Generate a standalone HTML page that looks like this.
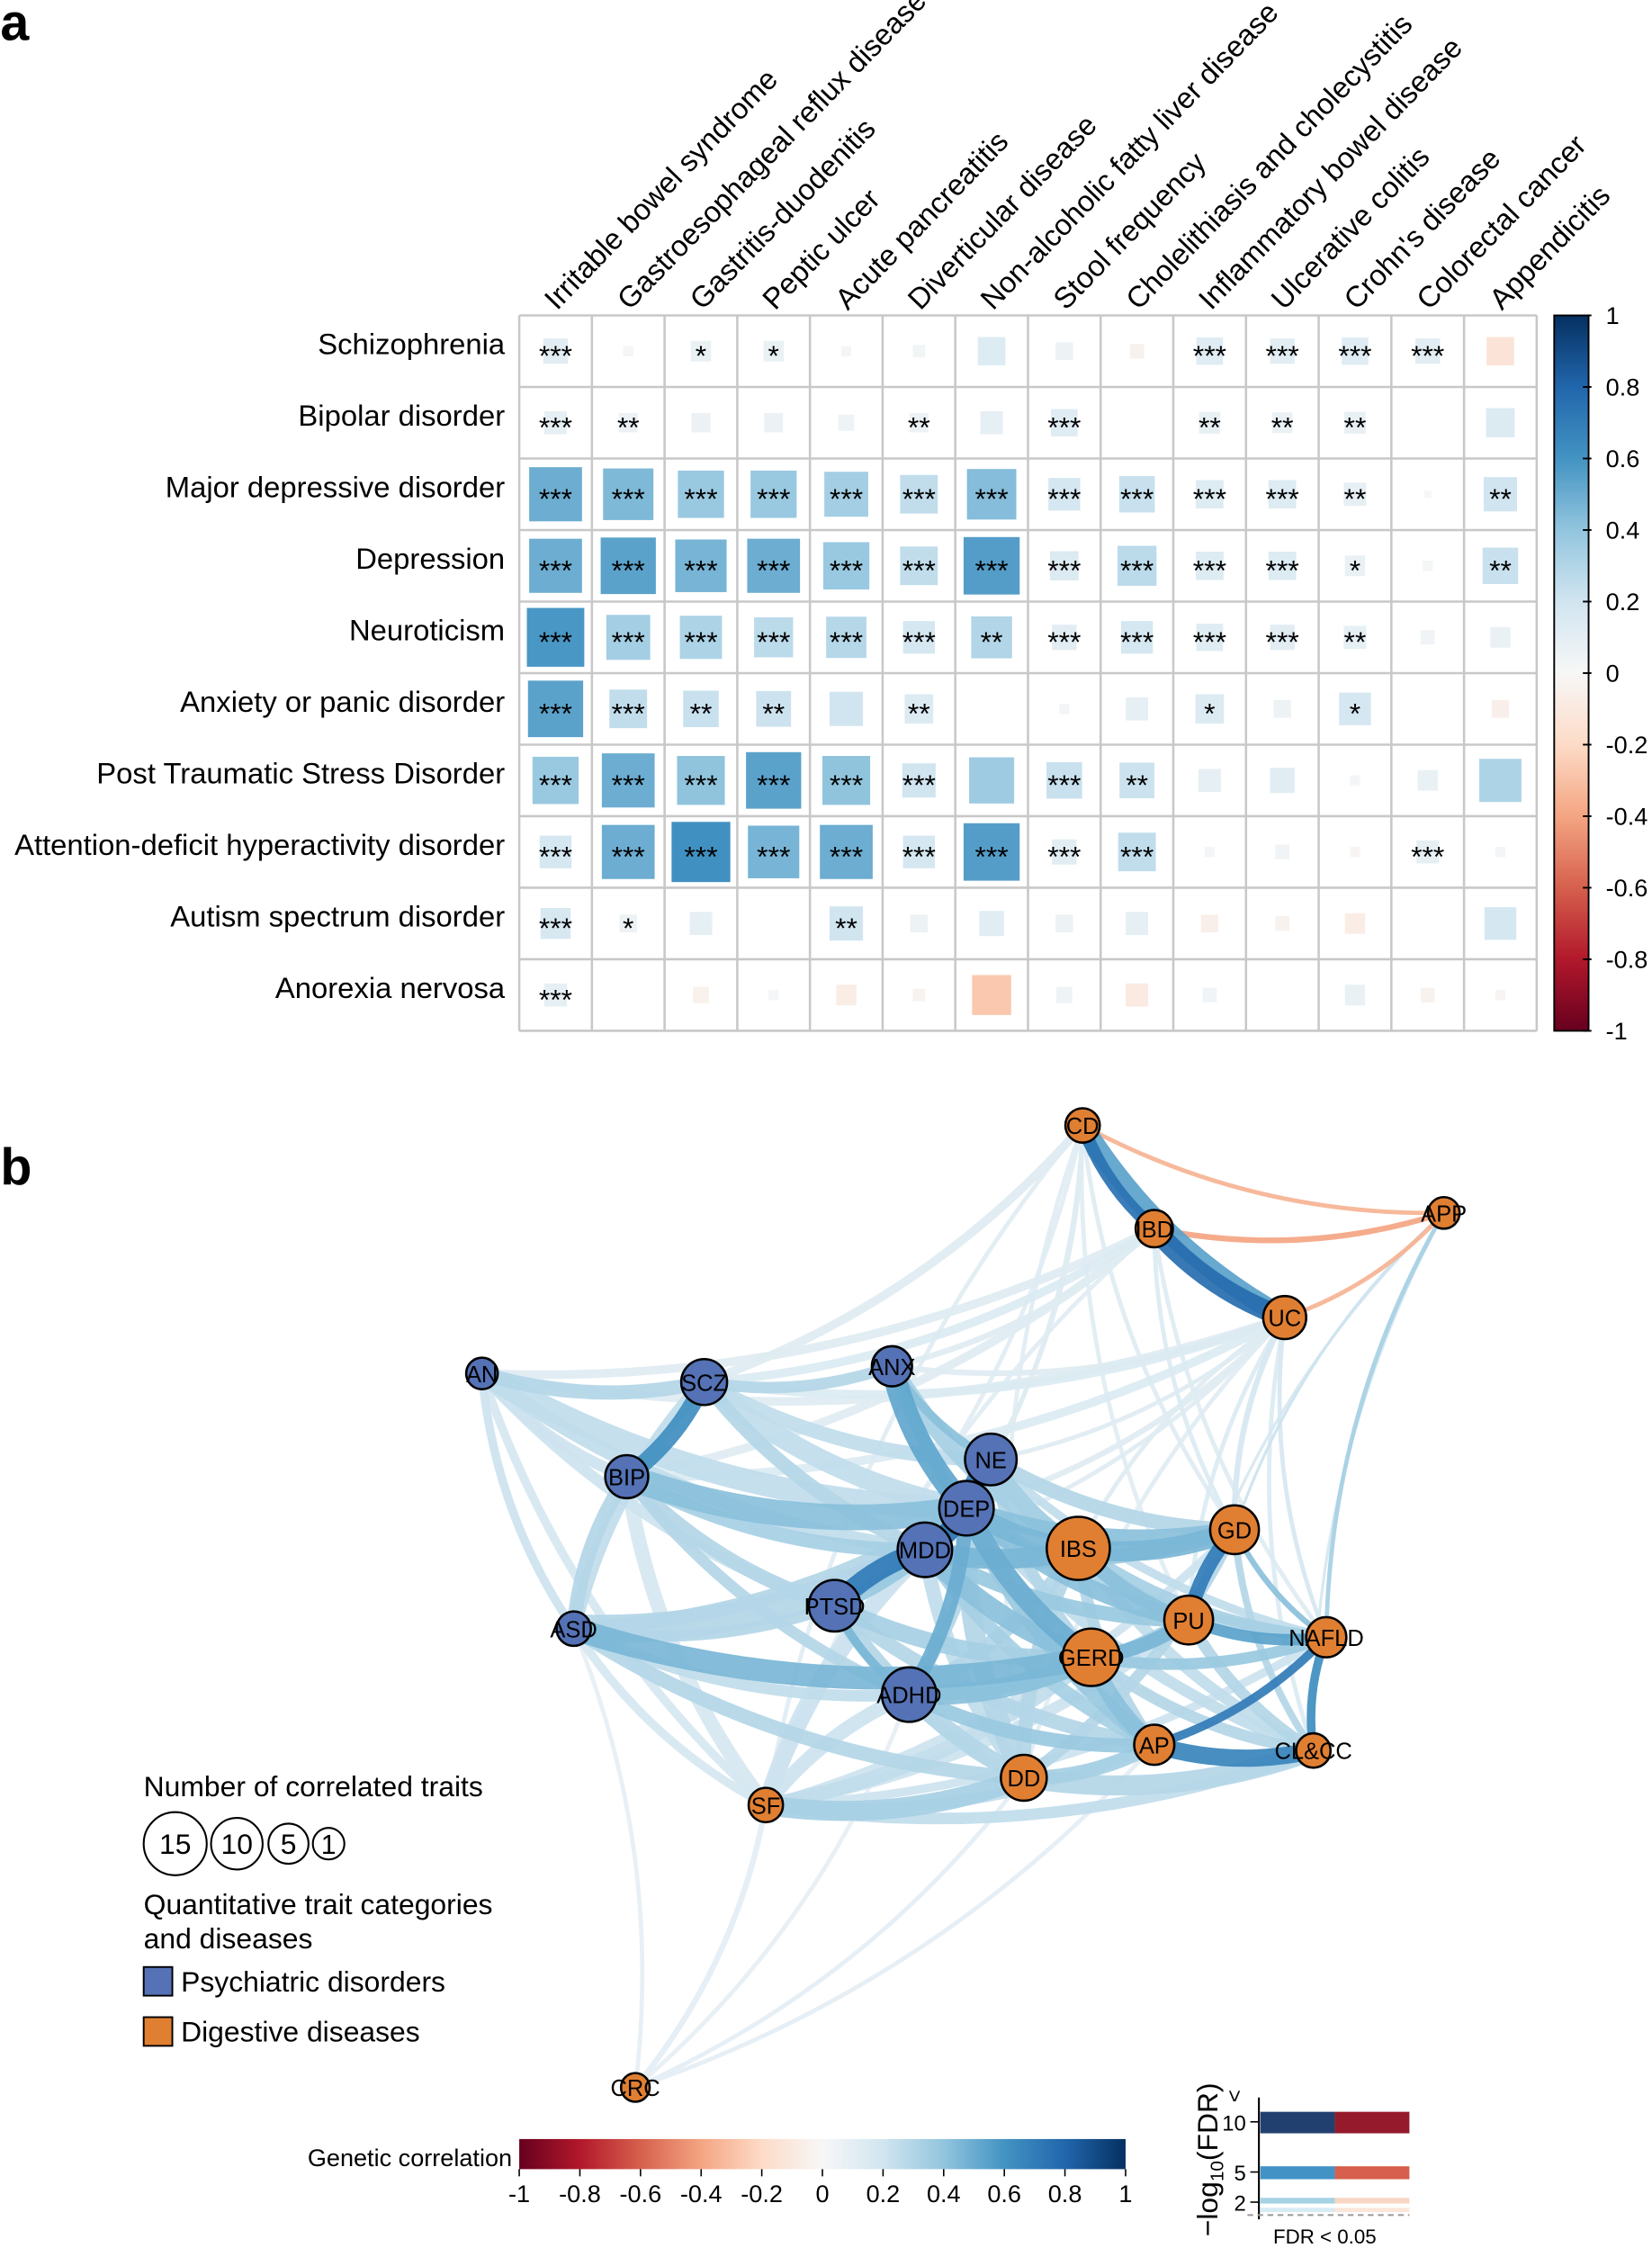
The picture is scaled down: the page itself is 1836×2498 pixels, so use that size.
<!DOCTYPE html>
<html><head><meta charset="utf-8"><style>
html,body{margin:0;padding:0;background:#fff;}
svg{display:block;}
text{font-family:"Liberation Sans",Arial,sans-serif;}
</style></head><body>
<svg id="s" width="1836" height="2498" viewBox="0 0 1152 1568" xmlns="http://www.w3.org/2000/svg">
<defs>
<linearGradient id="cbv" x1="0" y1="1" x2="0" y2="0">
<stop offset="0" stop-color="#67001F"/><stop offset="0.1" stop-color="#B2182B"/><stop offset="0.2" stop-color="#D6604D"/><stop offset="0.3" stop-color="#F4A582"/><stop offset="0.4" stop-color="#FDDBC7"/><stop offset="0.5" stop-color="#F7F7F7"/><stop offset="0.6" stop-color="#D1E5F0"/><stop offset="0.7" stop-color="#92C5DE"/><stop offset="0.8" stop-color="#4393C3"/><stop offset="0.9" stop-color="#2166AC"/><stop offset="1" stop-color="#053061"/>
</linearGradient>
<linearGradient id="cbh" x1="0" y1="0" x2="1" y2="0">
<stop offset="0" stop-color="#67001F"/><stop offset="0.1" stop-color="#B2182B"/><stop offset="0.2" stop-color="#D6604D"/><stop offset="0.3" stop-color="#F4A582"/><stop offset="0.4" stop-color="#FDDBC7"/><stop offset="0.5" stop-color="#F7F7F7"/><stop offset="0.6" stop-color="#D1E5F0"/><stop offset="0.7" stop-color="#92C5DE"/><stop offset="0.8" stop-color="#4393C3"/><stop offset="0.9" stop-color="#2166AC"/><stop offset="1" stop-color="#053061"/>
</linearGradient>
</defs>
<text x="0" y="28" font-size="36" font-weight="bold">a</text>
<text x="0" y="826" font-size="36" font-weight="bold">b</text>
<g id="heat"></g>
<g id="net"></g>
<text x="100" y="1253" font-size="20">Number of correlated traits</text>
<circle cx="122" cy="1286" r="22" fill="#fff" stroke="#000" stroke-width="1.3"/><text x="122" y="1293" font-size="20" text-anchor="middle">15</text>
<circle cx="165" cy="1286" r="18" fill="#fff" stroke="#000" stroke-width="1.3"/><text x="165" y="1293" font-size="20" text-anchor="middle">10</text>
<circle cx="201" cy="1286" r="14" fill="#fff" stroke="#000" stroke-width="1.3"/><text x="201" y="1293" font-size="20" text-anchor="middle">5</text>
<circle cx="229" cy="1286" r="11" fill="#fff" stroke="#000" stroke-width="1.3"/><text x="229" y="1293" font-size="19" text-anchor="middle">1</text>
<text x="100" y="1335" font-size="20">Quantitative trait categories</text>
<text x="100" y="1359" font-size="20">and diseases</text>
<rect x="100" y="1372" width="20" height="20" fill="#5472B5" stroke="#000" stroke-width="1.2"/>
<text x="126" y="1389" font-size="20">Psychiatric disorders</text>
<rect x="100" y="1407" width="20" height="20" fill="#E07F32" stroke="#000" stroke-width="1.2"/>
<text x="126" y="1424" font-size="20">Digestive diseases</text>
<text x="357" y="1511" font-size="17" text-anchor="end">Genetic correlation</text>
<rect x="362" y="1492" width="423" height="21" fill="url(#cbh)"/>
<g id="hticks"></g>
<line x1="878" y1="1463" x2="878" y2="1548" stroke="#000" stroke-width="1.3"/>
<rect x="879" y="1473" width="52" height="15" fill="#22406F"/><rect x="931" y="1473" width="52" height="15" fill="#951A2B"/>
<rect x="879" y="1511" width="52" height="9" fill="#4292C6"/><rect x="931" y="1511" width="52" height="9" fill="#D6604D"/>
<rect x="879" y="1533" width="52" height="4" fill="#A6D3E3"/><rect x="931" y="1533" width="52" height="4" fill="#F7D7C4"/>
<rect x="879" y="1540" width="52" height="3" fill="#D6EBF3"/><rect x="931" y="1540" width="52" height="3" fill="#FBE6DA"/>
<line x1="870" y1="1545" x2="983" y2="1545" stroke="#999" stroke-width="1.2" stroke-dasharray="4,3"/>
<line x1="872" y1="1480" x2="878" y2="1480" stroke="#000"/><line x1="872" y1="1515" x2="878" y2="1515" stroke="#000"/><line x1="872" y1="1536" x2="878" y2="1536" stroke="#000"/>
<text x="869" y="1486" font-size="15" text-anchor="end">10</text>
<text x="869" y="1521" font-size="15" text-anchor="end">5</text>
<text x="869" y="1542" font-size="15" text-anchor="end">2</text>
<text transform="translate(866,1462) rotate(-90)" font-size="15" text-anchor="middle">&lt;</text>
<text transform="translate(849,1560) rotate(-90)" font-size="20">−log<tspan font-size="13" dy="4">10</tspan><tspan dy="-4">(FDR)</tspan></text>
<text x="888" y="1565" font-size="14">FDR &lt; 0.05</text>
</svg>
<script>
var NS="http://www.w3.org/2000/svg";
function el(t,a,p,txt){var e=document.createElementNS(NS,t);for(var k in a)e.setAttribute(k,a[k]);if(txt!==undefined)e.textContent=txt;p.appendChild(e);return e;}
var stops=[[-1,[103,0,31]],[-.8,[178,24,43]],[-.6,[214,96,77]],[-.4,[244,165,130]],[-.2,[253,219,199]],[0,[247,247,247]],[.2,[209,229,240]],[.4,[146,197,222]],[.6,[67,147,195]],[.8,[33,102,172]],[1,[5,48,97]]];
function col(v){v=Math.max(-1,Math.min(1,v));for(var i=0;i<stops.length-1;i++){var a=stops[i],b=stops[i+1];if(v<=b[0]){var t=(v-a[0])/(b[0]-a[0]);var c=a[1].map(function(x,j){return Math.round(x+(b[1][j]-x)*t);});return "rgb("+c.join(",")+")";}}return "rgb(5,48,97)";}
var H=document.getElementById("heat");
var rows=["Schizophrenia","Bipolar disorder","Major depressive disorder","Depression","Neuroticism","Anxiety or panic disorder","Post Traumatic Stress Disorder","Attention-deficit hyperactivity disorder","Autism spectrum disorder","Anorexia nervosa"];
var cols=["Irritable bowel syndrome","Gastroesophageal reflux disease","Gastritis-duodenitis","Peptic ulcer","Acute pancreatitis","Diverticular disease","Non-alcoholic fatty liver disease","Stool frequency","Cholelithiasis and cholecystitis","Inflammatory bowel disease","Ulcerative colitis","Crohn's disease","Colorectal cancer","Appendicitis"];
var V=[[.12,.02,.08,.08,.02,.03,.15,.06,-.04,.14,.12,.14,.12,-.15],
[.1,.07,.07,.07,.05,.07,.1,.14,0,.09,.08,.09,0,.16],
[.55,.5,.42,.42,.38,.28,.48,.2,.25,.15,.15,.1,.01,.22],
[.55,.6,.52,.55,.42,.28,.62,.16,.3,.15,.15,.08,.02,.25],
[.65,.38,.35,.3,.32,.2,.33,.12,.2,.14,.12,.1,.04,.08],
[.6,.28,.25,.24,.22,.16,0,.02,.1,.16,.06,.2,0,-.06],
[.42,.55,.45,.6,.45,.22,.4,.25,.24,.1,.12,.02,.08,.35],
[.2,.55,.68,.52,.55,.2,.62,.12,.28,.02,.04,-.02,.1,.02],
[.18,.06,.1,0,.22,.06,.12,.06,.1,-.06,-.04,-.08,0,.2],
[.1,0,-.05,.02,-.08,-.03,-.3,.05,-.1,.04,0,.08,-.04,-.02]];
var S=[[3,0,1,1,0,0,0,0,0,3,3,3,3,0],[3,2,0,0,0,2,0,3,0,2,2,2,0,0],[3,3,3,3,3,3,3,3,3,3,3,2,0,2],[3,3,3,3,3,3,3,3,3,3,3,1,0,2],[3,3,3,3,3,3,2,3,3,3,3,2,0,0],[3,3,2,2,0,2,0,0,0,1,0,1,0,0],[3,3,3,3,3,3,0,3,2,0,0,0,0,0],[3,3,3,3,3,3,3,3,3,0,0,0,3,0],[3,1,0,0,2,0,0,0,0,0,0,0,0,0],[3,0,0,0,0,0,0,0,0,0,0,0,0,0]];
var x0=362,y0=220,cw=50.7,ch=49.9;
el("rect",{x:x0,y:y0,width:cw*14,height:ch*10,fill:"#fff"},H);
for(var r=0;r<10;r++){for(var c=0;c<14;c++){var v=V[r][c];var s=Math.sqrt(Math.abs(v));var w=cw*s*0.98,h=ch*s*1.02;var cx=x0+cw*(c+.5),cy=y0+ch*(r+.5);
if(Math.abs(v)>0.005)el("rect",{x:cx-w/2,y:cy-h/2,width:w,height:h,fill:col(v*0.9)},H);
if(S[r][c])el("text",{x:cx,y:cy+10,"font-size":20,"text-anchor":"middle"},H,"*".repeat(S[r][c]));}}
for(var i=0;i<=14;i++)el("line",{x1:x0+cw*i,y1:y0,x2:x0+cw*i,y2:y0+ch*10,stroke:"#c8c8c8","stroke-width":1.6},H);
for(var i=0;i<=10;i++)el("line",{x1:x0,y1:y0+ch*i,x2:x0+cw*14,y2:y0+ch*i,stroke:"#c8c8c8","stroke-width":1.6},H);
for(var r=0;r<10;r++)el("text",{x:352,y:y0+ch*(r+.5)+2,"font-size":20.6,"text-anchor":"end"},H,rows[r]);
for(var c=0;c<14;c++){var cx=x0+cw*(c+.5)+1;el("text",{transform:"translate("+cx+",217) rotate(-46)","font-size":20.5},H,cols[c]);}
el("rect",{x:1084,y:220,width:24,height:499,fill:"url(#cbv)",stroke:"#000","stroke-width":1.2},H);
for(var k=-5;k<=5;k++){var v=k/5;var y=469.5-v*249.5;el("line",{x1:1104,y1:y,x2:1110,y2:y,stroke:"#000","stroke-width":1.2},H);
el("text",{x:1120,y:y+6,"font-size":17},H,(v==0?"0":(Math.round(v*10)/10).toString()));}
var T=document.getElementById("hticks");
for(var k=-5;k<=5;k++){var v=k/5;var x=573.5+v*211.5;el("line",{x1:x,y1:1513,x2:x,y2:1518,stroke:"#000"},T);el("text",{x:x,y:1536,"font-size":17,"text-anchor":"middle"},T,(v==0?"0":(Math.round(v*10)/10).toString()));}
var N={CD:[755,785,12,1],IBD:[805,857,13,1],APP:[1007,846,11,1],UC:[896,919,15,1],AN:[336,958,11,0],SCZ:[491,964,16,0],ANX:[622,953,14,0],NE:[691,1018,18,0],BIP:[437,1030,15,0],DEP:[674,1052,19,0],MDD:[645,1081,19,0],IBS:[752,1080,22,1],GD:[861,1067,17,1],PTSD:[582,1120,18,0],PU:[829,1130,17,1],ASD:[400,1136,12,0],NAFLD:[925,1142,14,1],GERD:[761,1156,20,1],ADHD:[634,1182,19,0],AP:[805,1217,14,1],"CL&CC":[916,1221,12,1],DD:[714,1240,16,1],SF:[534,1259,12,1],CRC:[443,1456,10,1]};
var E="CD-IBD:.85:9,CD-UC:.6:14,IBD-UC:.88:14,CD-APP:-.3:3,IBD-APP:-.35:4,UC-APP:-.3:3,APP-NAFLD:.35:3,APP-GD:.2:2,APP-CL&CC:.15:2,APP-PU:.15:2,GD-PU:.8:10,AP-CL&CC:.75:12,AP-NAFLD:.8:6,NAFLD-CL&CC:.7:6,GD-NAFLD:.45:4,PU-NAFLD:.6:8,PU-CL&CC:.3:8,GERD-NAFLD:.4:8,GERD-PU:.5:10,IBS-GD:.5:14,IBS-PU:.45:10,GERD-AP:.45:12,DD-CL&CC:.3:14,SF-DD:.35:14,SF-CL&CC:.25:8,DD-AP:.35:10,IBS-NAFLD:.35:8,GERD-CL&CC:.3:8,GD-CL&CC:.3:5,DD-GD:.3:8,IBS-CL&CC:.25:8,BIP-SCZ:.7:12,ANX-DEP:.58:16,ANX-NE:.45:6,MDD-PTSD:.8:14,MDD-DEP:.85:14,NE-DEP:.75:14,ADHD-DEP:.55:10,AN-DEP:.25:16,AN-SCZ:.3:10,AN-BIP:.2:8,AN-ASD:.2:6,AN-PTSD:.2:8,AN-SF:.15:6,AN-MDD:.25:10,SCZ-DEP:.25:14,SCZ-MDD:.3:10,SCZ-ANX:.3:8,SCZ-ASD:.25:10,SCZ-NE:.25:10,BIP-DEP:.45:18,BIP-MDD:.35:10,BIP-PTSD:.3:10,BIP-ASD:.3:10,BIP-SF:.15:10,BIP-ADHD:.3:8,ASD-MDD:.3:20,ASD-PTSD:.3:8,ASD-ADHD:.25:8,ASD-DEP:.3:10,PTSD-DEP:.4:10,PTSD-ADHD:.5:6,ADHD-NE:.3:8,MDD-NE:.4:10,PTSD-NE:.3:8,DEP-IBS:.5:14,DEP-GD:.45:12,DEP-PU:.45:12,DEP-GERD:.55:14,DEP-NAFLD:.3:8,DEP-AP:.4:12,DEP-DD:.3:14,DEP-CL&CC:.25:8,DEP-SF:.2:10,MDD-IBS:.5:14,MDD-GERD:.45:14,MDD-PU:.4:10,MDD-GD:.4:10,MDD-DD:.25:10,MDD-SF:.2:12,MDD-AP:.35:10,ASD-GERD:.5:16,ASD-DD:.3:10,PTSD-GERD:.35:12,PTSD-AP:.3:10,PTSD-DD:.3:12,ADHD-GERD:.45:14,ADHD-AP:.4:10,ADHD-PU:.35:10,ADHD-IBS:.3:10,ADHD-DD:.25:8,ADHD-SF:.2:10,NE-IBS:.35:12,NE-GD:.3:10,NE-NAFLD:.25:6,NE-PU:.3:8,NE-GERD:.3:8,ANX-IBS:.35:12,ANX-GERD:.25:8,SCZ-UC:.12:6,SCZ-CD:.1:6,SCZ-IBD:.12:6,BIP-IBD:.1:6,BIP-UC:.12:6,AN-UC:.1:6,AN-IBD:.1:6,ANX-UC:.1:4,ANX-IBD:.1:4,NE-UC:.1:3,NE-CD:.1:3,DEP-CD:.1:3,DEP-UC:.1:4,MDD-UC:.1:3,PTSD-CD:.08:3,UC-GD:.15:4,UC-NAFLD:.15:3,UC-CL&CC:.12:3,UC-PU:.12:3,UC-IBS:.1:3,IBD-GD:.12:3,IBD-NAFLD:.1:3,CD-GD:.1:3,CD-DD:.08:3,CD-SF:.08:3,CD-PU:.08:3,IBD-SF:.08:3,UC-DD:.08:3,CRC-SF:.06:4,CRC-DD:.06:3,CRC-AP:.06:3,CRC-ADHD:.05:3,CRC-ASD:.05:3,SF-PU:.2:8,SF-GERD:.25:10,SF-AP:.25:8,SF-NAFLD:.2:6,SF-GD:.2:6,IBS-DD:.3:10,IBS-AP:.3:8,ASD-SF:.15:6".split(",").map(function(s){var p=s.split(":");var ab=p[0].split("-");return [ab[0],ab[1],+p[1],+p[2]];});
E.sort(function(a,b){return Math.abs(a[2])-Math.abs(b[2]);});
var G=document.getElementById("net");
E.forEach(function(e){var a=N[e[0]],b=N[e[1]];if(!a||!b)return;var dx=b[0]-a[0],dy=b[1]-a[1];var mx=(a[0]+b[0])/2-dy*0.13,my=(a[1]+b[1])/2+dx*0.13;
var v=e[2];var cv=v>0?0.05+v*0.82:v-0.05;
el("path",{d:"M"+a[0]+","+a[1]+" Q"+mx+","+my+" "+b[0]+","+b[1],fill:"none",stroke:col(cv),"stroke-width":e[3],"stroke-opacity":0.92},G);});
for(var k in N){var n=N[k];el("circle",{cx:n[0],cy:n[1],r:n[2],fill:n[3]?"#E07F32":"#5472B5",stroke:"#000","stroke-width":1.6},G);
el("text",{x:n[0],y:n[1]+6,"font-size":16,"text-anchor":"middle"},G,k);}
</script>
</body></html>
